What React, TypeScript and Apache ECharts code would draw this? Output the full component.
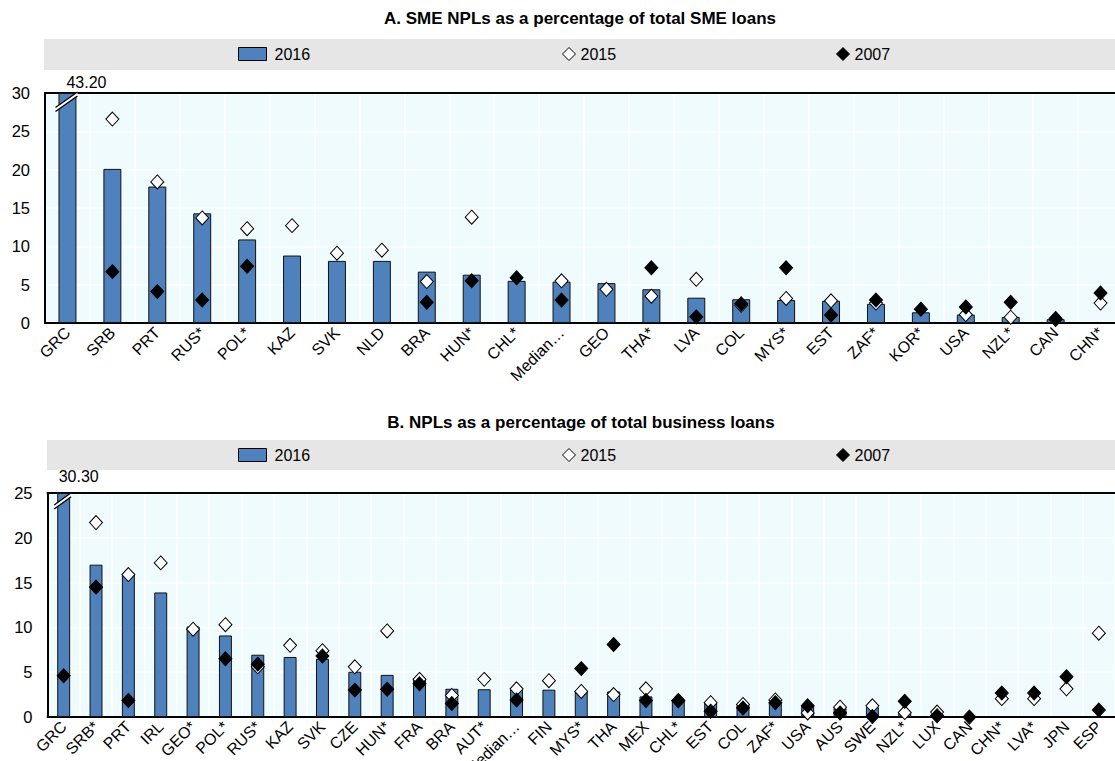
import React, { useEffect, useRef } from "react";
import * as echarts from "echarts";

const FONT = '"Liberation Sans", Arial, sans-serif';
const BAR = "#4F81BD";
const BG = "#F0FBFE";
const BAND = "#E6E6E6";

// Panel A: SME NPLs as a percentage of total SME loans
const catsA = ["GRC", "SRB", "PRT", "RUS*", "POL*", "KAZ", "SVK", "NLD", "BRA", "HUN*", "CHL*", "Median…", "GEO", "THA*", "LVA", "COL", "MYS*", "EST", "ZAF*", "KOR*", "USA", "NZL*", "CAN", "CHN*"];
const a2016 = [43.2, 20.1, 17.8, 14.3, 10.9, 8.8, 8.1, 8.1, 6.7, 6.3, 5.5, 5.4, 5.2, 4.4, 3.3, 3.1, 3.0, 2.9, 2.5, 1.4, 1.1, 0.8, 0.5, null];
const a2015 = [null, 26.6, 18.4, 13.7, 12.3, 12.7, 9.1, 9.5, 5.4, 13.8, null, 5.5, 4.4, 3.5, 5.7, 2.3, 3.2, 2.9, 2.6, null, 1.1, 0.75, 0.45, 2.6];
const a2007 = [null, 6.7, 4.1, 3.0, 7.4, null, null, null, 2.7, 5.5, 5.9, 3.0, null, 7.2, 0.8, 2.5, 7.2, 1.05, 3.0, 1.8, 2.1, 2.7, 0.6, 3.9];
const yMaxA = 30;
const yTicksA = 5;
const breakA = 28.6;

// Panel B: NPLs as a percentage of total business loans
const catsB = ["GRC", "SRB*", "PRT", "IRL", "GEO*", "POL*", "RUS*", "KAZ", "SVK", "CZE", "HUN*", "FRA", "BRA", "AUT*", "Median…", "FIN", "MYS*", "THA", "MEX", "CHL*", "EST", "COL", "ZAF*", "USA", "AUS", "SWE", "NZL*", "LUX", "CAN", "CHN*", "LVA*", "JPN", "ESP"];
const b2016 = [30.3, 17.0, 15.9, 13.9, 10.1, 9.1, 6.95, 6.7, 6.5, 5.05, 4.7, 4.2, 3.15, 3.1, 3.1, 3.05, 2.85, 2.85, 2.3, 1.9, 1.6, 1.35, 1.7, 1.3, 1.0, 1.1, 0.55, 0.3, null, null, null, null, null];
const b2015 = [null, 21.7, 15.9, 17.2, 9.8, 10.3, 5.6, 8.0, 7.4, 5.6, 9.6, 4.2, 2.4, 4.2, 3.15, 4.05, 2.85, 2.5, 3.15, 1.85, 1.6, 1.4, 1.9, 0.45, 1.1, 1.25, 0.5, 0.55, null, 2.05, 2.05, 3.15, 9.35];
const b2007 = [4.6, 14.5, 1.85, null, null, 6.5, 5.9, null, 6.8, 3.0, 3.1, 3.7, 1.5, null, 1.9, null, 5.4, 8.1, 1.85, 1.8, 0.65, 1.0, 1.6, 1.25, 0.45, 0.05, 1.75, 0.15, 0.0, 2.67, 2.67, 4.5, 0.78];
const yMaxB = 25;
const yTicksB = 5;
const breakB = 23.9;

const axisColor = "#000";

function barData(vals: (number | null)[], max: number, labelOffset: number[]) {
  return vals.map((v) => {
    if (v == null) return null;
    if (v > max) {
      return {
        value: max,
        label: {
          show: true,
          position: "top",
          align: "left",
          offset: labelOffset,
          formatter: v.toFixed(2),
          fontFamily: FONT,
          fontSize: 16,
          color: "#000",
        },
      };
    }
    return v;
  });
}

function pts(vals: (number | null)[]) {
  const out: number[][] = [];
  vals.forEach((v, i) => {
    if (v != null) out.push([i, v]);
  });
  return out;
}

function breakRender(params: any, api: any) {
  const p = api.coord([api.value(0), api.value(1)]);
  const bw = api.size([1, 0])[0] * 0.4;
  const half = bw / 2 + 3;
  const k = 0.65;
  const gap = 4;
  const x1 = p[0] - half;
  const x2 = p[0] + half - 2;
  const y1 = p[1] + k * half;
  const y2 = p[1] - k * half;
  return {
    type: "group",
    children: [
      {
        type: "polygon",
        shape: { points: [[x1, y1], [x2, y2], [x2, y2 - gap], [x1, y1 - gap]] },
        style: { fill: "#fff", stroke: "none" },
      },
      { type: "line", shape: { x1, y1, x2, y2 }, style: { stroke: "#000", lineWidth: 1.3 } },
      { type: "line", shape: { x1, y1: y1 - gap, x2, y2: y2 - gap }, style: { stroke: "#000", lineWidth: 1.3 } },
    ],
  };
}

function xAxes(gridIndex: number, cats: string[]) {
  return [
    {
      type: "category",
      gridIndex,
      data: cats,
      axisLine: { lineStyle: { color: axisColor, width: 2 } },
      axisTick: { inside: true, length: 5, lineStyle: { color: axisColor, width: 2 } },
      axisLabel: { rotate: 45, interval: 0, fontFamily: FONT, fontSize: 16, color: "#000", margin: 7 },
      splitLine: { show: true, lineStyle: { color: "#fff", width: 1.5 } },
    },
    {
      type: "category",
      gridIndex,
      position: "top",
      data: cats,
      axisLine: { lineStyle: { color: axisColor, width: 2 } },
      axisTick: { show: false },
      axisLabel: { show: false },
      splitLine: { show: false },
    },
  ];
}

function yAxis(gridIndex: number, max: number, interval: number) {
  return {
    type: "value",
    gridIndex,
    min: 0,
    max,
    interval,
    axisLine: { show: true, lineStyle: { color: axisColor, width: 2 } },
    axisTick: { show: false },
    axisLabel: { fontFamily: FONT, fontSize: 16.5, color: "#000", margin: 15 },
    splitLine: { show: true, lineStyle: { color: "#fff", width: 1.5 } },
  };
}

function legends(top: number) {
  const textStyle = { fontFamily: FONT, fontSize: 16, color: "#000" };
  return [
    {
      data: [{ name: "2016", icon: "rect", itemStyle: { color: BAR, borderColor: "#000", borderWidth: 1 } }],
      left: 238,
      top,
      itemWidth: 28,
      itemHeight: 13,
      padding: 0,
      selectedMode: false,
      textStyle: { ...textStyle, padding: [0, 0, 0, 3] },
    },
    {
      data: [{ name: "2015", icon: "diamond", itemStyle: { color: "#fff", borderColor: "#000", borderWidth: 1 } }],
      left: 562,
      top,
      itemWidth: 13,
      itemHeight: 13,
      padding: 0,
      selectedMode: false,
      textStyle,
    },
    {
      data: [{ name: "2007", icon: "diamond", itemStyle: { color: "#000", borderColor: "#000", borderWidth: 1 } }],
      left: 836,
      top,
      itemWidth: 13,
      itemHeight: 13,
      padding: 0,
      selectedMode: false,
      textStyle,
    },
  ];
}

function panelSeries(xi: number, yi: number, v16: (number | null)[], v15: (number | null)[], v07: (number | null)[], max: number, brk: number, labelOffset: number[]) {
  return [
    {
      name: "2016",
      type: "bar",
      xAxisIndex: xi,
      yAxisIndex: yi,
      data: barData(v16, max, labelOffset),
      barWidth: "40%",
      itemStyle: { color: BAR, borderColor: "#111", borderWidth: 1 },
    },
    {
      name: "2015",
      type: "scatter",
      xAxisIndex: xi,
      yAxisIndex: yi,
      data: pts(v15),
      symbol: "diamond",
      symbolSize: [13, 14],
      itemStyle: { color: "#fff", borderColor: "#000", borderWidth: 1, opacity: 1 },
      z: 3,
    },
    {
      name: "2007",
      type: "scatter",
      xAxisIndex: xi,
      yAxisIndex: yi,
      data: pts(v07),
      symbol: "diamond",
      symbolSize: [13, 14],
      itemStyle: { color: "#000", borderColor: "#000", borderWidth: 1, opacity: 1 },
      z: 4,
    },
    {
      type: "custom",
      xAxisIndex: xi,
      yAxisIndex: yi,
      data: [[0, brk]],
      renderItem: breakRender,
      silent: true,
      clip: false,
      z: 5,
    },
  ];
}

export default function App() {
  const ref = useRef<HTMLDivElement>(null);
  useEffect(() => {
    if (!ref.current) return;
    const chart = echarts.init(ref.current, null, { renderer: "svg" });
    const titleStyle = { fontFamily: FONT, fontWeight: "bold", fontSize: 17, fill: "#000", textAlign: "center", textVerticalAlign: "middle" };
    chart.setOption({
      animation: false,
      backgroundColor: "#fff",
      textStyle: { fontFamily: FONT },
      graphic: [
        { type: "text", x: 580, y: 18, style: { ...titleStyle, text: "A. SME NPLs as a percentage of total SME loans" } },
        { type: "text", x: 581, y: 422, style: { ...titleStyle, text: "B. NPLs as a percentage of total business loans" } },
        { type: "rect", shape: { x: 44, y: 39, width: 1071, height: 31 }, style: { fill: BAND }, z: -10 },
        { type: "rect", shape: { x: 47, y: 440, width: 1068, height: 30 }, style: { fill: BAND }, z: -10 },
      ],
      legend: [...legends(46), ...legends(447)],
      grid: [
        { left: 45, top: 93, width: 1078, height: 230, show: true, backgroundColor: BG, borderWidth: 0, containLabel: false, outerBoundsMode: "none" },
        { left: 47.5, top: 493, width: 1067.5, height: 224, show: true, backgroundColor: BG, borderWidth: 0, containLabel: false, outerBoundsMode: "none" },
      ],
      xAxis: [...xAxes(0, catsA), ...xAxes(1, catsB)],
      yAxis: [yAxis(0, yMaxA, yTicksA), yAxis(1, yMaxB, yTicksB)],
      series: [
        ...panelSeries(0, 0, a2016, a2015, a2007, yMaxA, breakA, [-1, 2]),
        ...panelSeries(2, 1, b2016, b2015, b2007, yMaxB, breakB, [-5, -4]),
      ],
    });
    return () => chart.dispose();
  }, []);
  return <div ref={ref} style={{ position: "absolute", left: 0, top: 0, width: 1115, height: 761 }} />;
}
